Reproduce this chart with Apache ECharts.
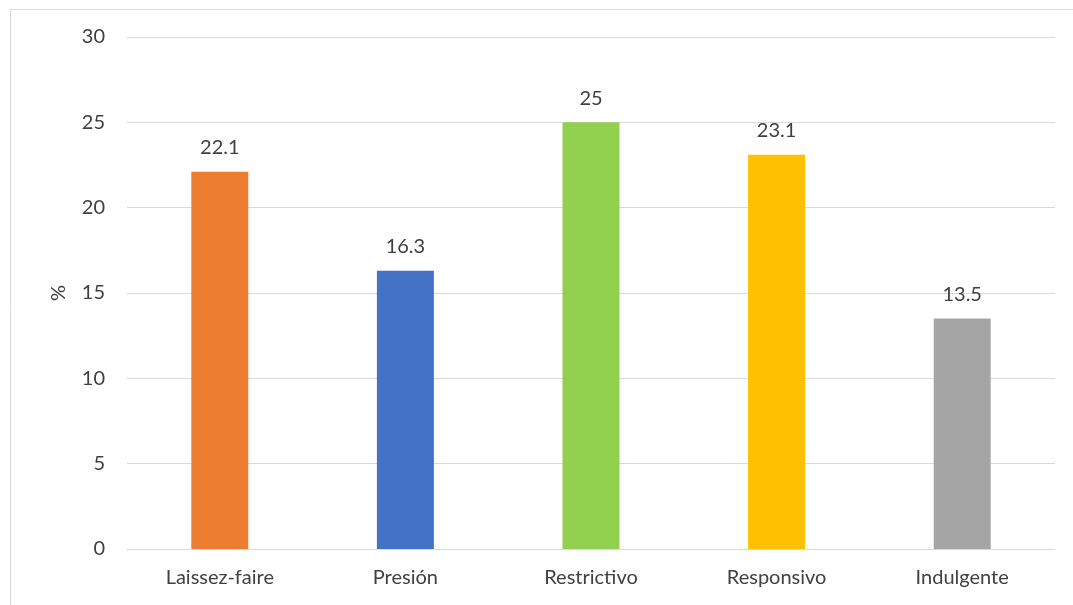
<!DOCTYPE html>
<html>
<head>
<meta charset="utf-8">
<script src="https://cdn.jsdelivr.net/npm/echarts@6/dist/echarts.min.js"></script>
<style>
  html, body { margin: 0; padding: 0; background: #ffffff; }
  #chart { width: 1073px; height: 605px; }
</style>
</head>
<body>
<div id="chart"></div>
<script>
// Parenting styles and their share (%)
const categories = ['Laissez-faire', 'Presión', 'Restrictivo', 'Responsivo', 'Indulgente'];
const values = [22.1, 16.3, 25, 23.1, 13.5];
const barColors = ['#ED7D31', '#4472C4', '#92D050', '#FFC000', '#A5A5A5'];
const axisName = '%';

const FONT = 'Lato, "Open Sans", sans-serif';
const TEXT = '#404040';
const FS = 20;

const chart = echarts.init(document.getElementById('chart'), null, { renderer: 'canvas' });

chart.setOption({
  animation: false,
  backgroundColor: '#ffffff',
  graphic: [{
    type: 'rect',
    shape: { x: 10.5, y: 9.5, width: 1080, height: 620 },
    style: { fill: 'none', stroke: '#d9d9d9', lineWidth: 1 },
    silent: true
  }],
  grid: { left: 127, right: 18, top: 37, bottom: 56 },
  xAxis: {
    type: 'category',
    data: categories,
    axisLine: { show: true, lineStyle: { color: '#d9d9d9', width: 1 } },
    axisTick: { show: false },
    axisLabel: { color: TEXT, fontFamily: FONT, fontSize: FS, margin: 19 }
  },
  yAxis: {
    type: 'value',
    min: 0,
    max: 30,
    interval: 5,
    name: axisName,
    nameLocation: 'middle',
    nameRotate: 90,
    nameGap: 58,
    nameTextStyle: { color: TEXT, fontFamily: FONT, fontSize: FS },
    axisLine: { show: false },
    axisTick: { show: false },
    axisLabel: { color: TEXT, fontFamily: FONT, fontSize: FS, margin: 22 },
    splitLine: { lineStyle: { color: '#d9d9d9', width: 1 } }
  },
  series: [{
    type: 'bar',
    data: values.map((v, i) => ({ value: v, itemStyle: { color: barColors[i] } })),
    barWidth: 57,
    label: {
      show: true,
      position: 'top',
      distance: 14,
      color: TEXT,
      fontFamily: FONT,
      fontSize: FS
    }
  }]
});
</script>
</body>
</html>
